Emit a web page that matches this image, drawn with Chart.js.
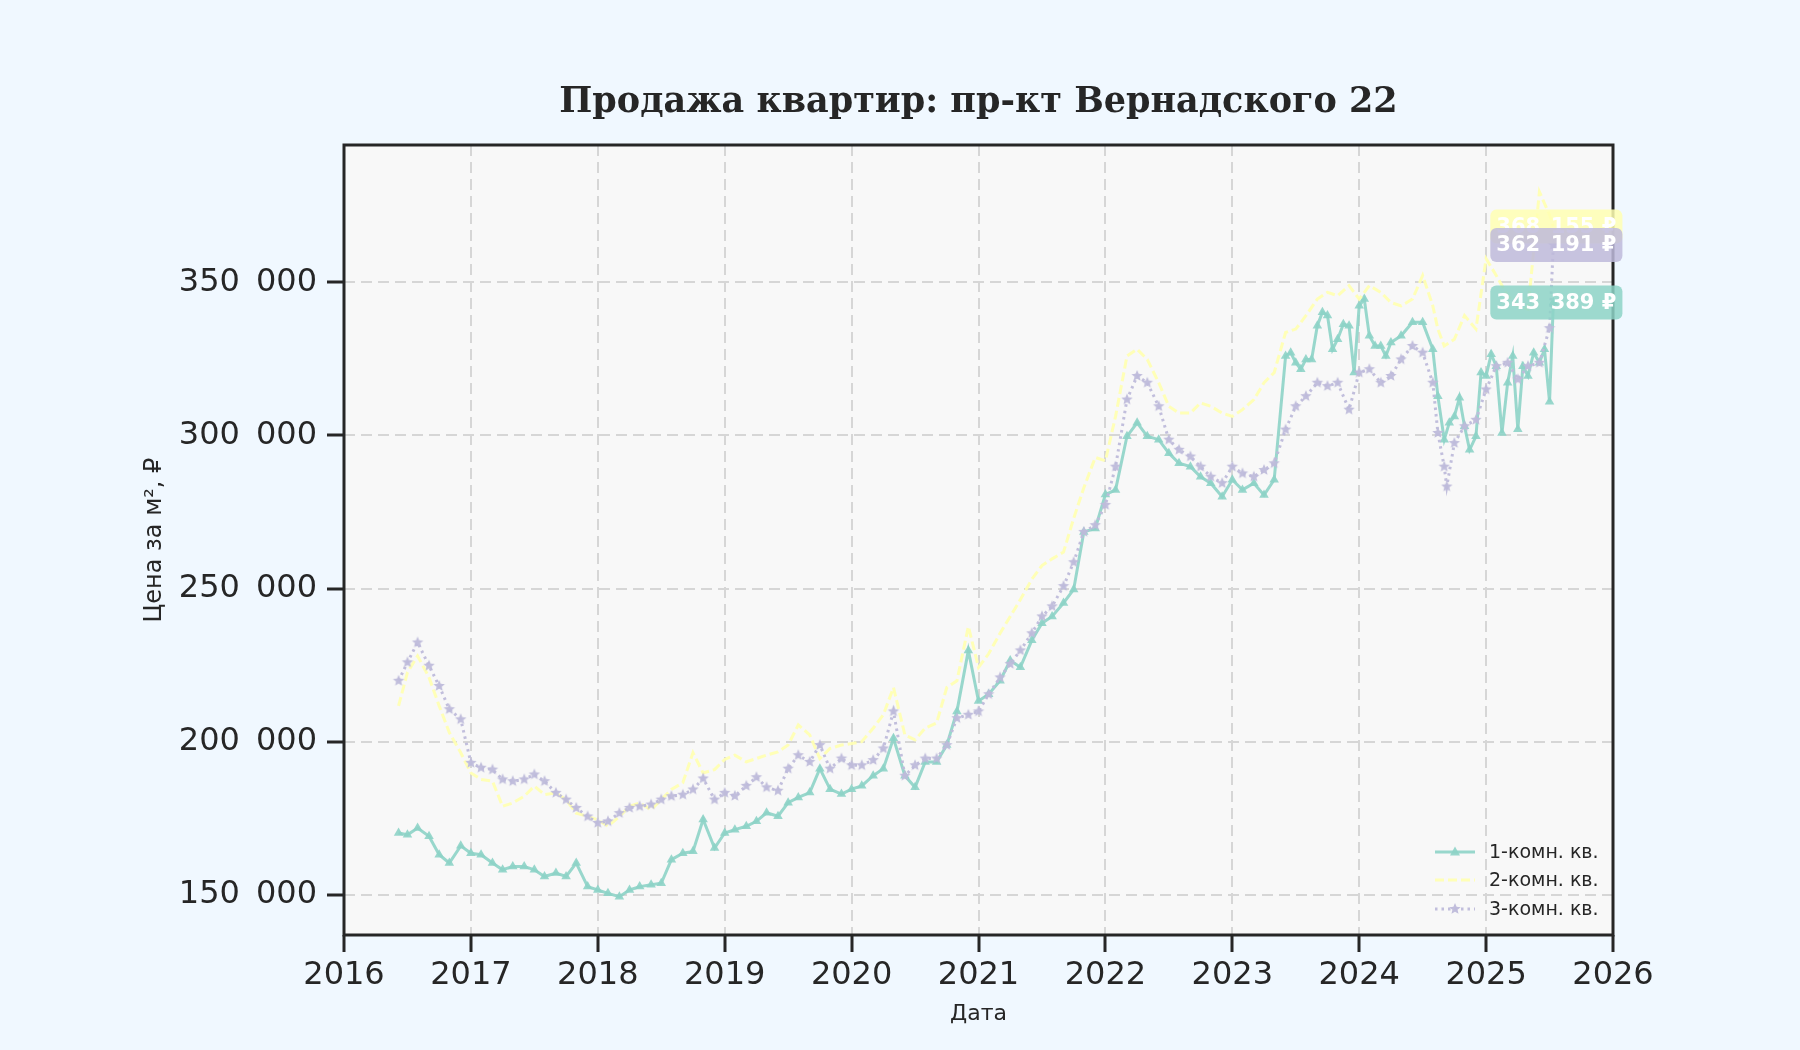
<!DOCTYPE html>
<html>
<head>
<meta charset="utf-8">
<script src="https://cdn.jsdelivr.net/npm/chart.js@4.4.1/dist/chart.umd.min.js"></script>
<style>
html,body{margin:0;padding:0;background:#f0f8ff;}
#wrap{width:1800px;height:1050px;}
</style>
</head>
<body>
<div id="wrap"><canvas id="c" width="1800" height="1050"></canvas></div>
<script>
// Dates as decimal years (common sampling for all three series)
const dates = [
  2016.43, 2016.5, 2016.58, 2016.67, 2016.75, 2016.83, 2016.92, 2017.0, 2017.08, 2017.17, 2017.25, 2017.33,
  2017.42, 2017.5, 2017.58, 2017.67, 2017.75, 2017.83, 2017.92, 2018.0, 2018.08, 2018.17, 2018.25, 2018.33,
  2018.42, 2018.5, 2018.58, 2018.67, 2018.75, 2018.83, 2018.92, 2019.0,
  2019.08, 2019.17, 2019.25, 2019.33, 2019.42, 2019.5, 2019.58, 2019.67, 2019.75, 2019.83, 2019.92, 2020.0,
  2020.08, 2020.17, 2020.25, 2020.33, 2020.42, 2020.5, 2020.58, 2020.67, 2020.75, 2020.83, 2020.92, 2021.0,
  2021.08, 2021.17, 2021.25, 2021.33, 2021.42, 2021.5, 2021.58, 2021.67, 2021.75, 2021.83, 2021.92, 2022.0,
  2022.08, 2022.17, 2022.25, 2022.33, 2022.42, 2022.5, 2022.58, 2022.67, 2022.75, 2022.83, 2022.92, 2023.0,
  2023.08, 2023.17, 2023.25, 2023.33, 2023.42, 2023.5, 2023.58, 2023.67, 2023.75, 2023.83, 2023.92, 2024.0,
  2024.08, 2024.17, 2024.25,
  2024.33, 2024.42, 2024.5, 2024.58, 2024.62, 2024.67, 2024.75, 2024.83, 2024.92, 2025.0, 2025.08, 2025.17,
  2025.25, 2025.33, 2025.42, 2025.5, 2025.53
];

const room1 = [
  170200, 169600, 171800, 169100, 163100, 160400, 166000, 163600, 163100, 160400, 158200, 159300,
  159300, 158200, 156000, 157100, 156000, 160400, 152700, 151600, 150500, 149400, 151600, 152700,
  153300, 153800, 161500, 163600, 164200, 174600, 165300, 170200,
  171300, 172400, 174000, 176800, 175700, 180100, 181800, 183400, 191200, 184500, 182900, 184500,
  185600, 188900, 191200, 201100, 188900, 185100, 193400, 193400, 198900, 209900, 229800, 213300,
  215500, 219900, 226500, 224300, 233100, 238700, 240900, 245300, 249700, 268500, 269600, 280700,
  282200, 299700, 304100, 299700, 298600, 294200, 290900, 289800, 286500, 284400, 280000, 285500,
  282200, 284400, 280500, 285500, 325900, 323700, 324800, 335800, 339100, 331400, 335800, 342300,
  332500, 329200, 330300,
  332500, 336900, 336900, 328100, 312800, 298600, 306200, 303000, 299700, 319400, 322600, 317200,
  302000, 319400, 323700, 311000, 343389
];

const room2 = [
  211700, 222600, 228000, 221000, 211700, 203000, 196400, 189800, 187700, 187100, 178900, 180000,
  182200, 185500, 182700, 183300, 181100, 176700, 175600, 174500, 172400, 175600, 178900, 180000,
  177800, 181100, 184400, 186600, 196400, 189800, 190900, 194200,
  195600, 193400, 194500, 195600, 196700, 198900, 205500, 202200, 194500, 197800, 198900, 199400,
  200000, 204400, 208800, 217700, 202200, 200600, 204400, 206100, 217700, 219900, 237600, 224300,
  228700, 235400, 240900, 246400, 253000, 257500, 259700, 261900, 272900, 282900, 292800, 291700,
  306200, 325900, 328100, 324800, 317200, 309500, 307300, 307300, 310600, 309500, 307300, 306200,
  308400, 311700, 317200, 320500, 333600, 334700, 339100, 344500, 346700, 345600, 348900, 344500,
  348900, 346700, 343400,
  342300, 344500, 352200, 342300, 334700, 329200, 331400, 339100, 334700, 357700, 352200, 345600,
  342300, 341200, 379500, 372000, 368155
];

const room3 = [
  219900, 225900, 232400, 224800, 218200, 210600, 207300, 193100, 191500, 190900, 187700, 187100,
  187700, 189300, 187100, 183300, 181100, 178400, 175600, 173500, 174000, 176700, 178400, 178900,
  179500, 181100, 182200, 182700, 184400, 188000, 181100, 183300,
  182300, 185600, 188400, 185100, 184000, 191200, 195600, 193400, 198900, 191200, 194500, 192300,
  192300, 194000, 197800, 209900, 188900, 192300, 194500, 194500, 198900, 207700, 208800, 209900,
  215500, 221000, 225400, 229800, 235400, 240900, 244200, 250800, 258600, 268500, 270700, 277300,
  289800, 311700, 319400, 317200, 309500, 298600, 295300, 293100, 289800, 286500, 284400, 289800,
  287600, 286500, 288700, 290900, 301900, 309500, 312800, 317200, 316100, 317200, 308400, 320500,
  321600, 317200, 319400,
  324800, 329200, 327000, 317200, 300800, 289800, 297500, 303000, 305100, 315000, 322600, 323700,
  318300, 322600, 323700, 335000, 362191
];

// Extra readings (in-between dates) where a series is especially jagged
const room1ExtraDates = [
  2023.46, 2023.54, 2023.625, 2023.71, 2023.79, 2023.875, 2023.96, 2024.04, 2024.125, 2024.21,
  2024.71, 2024.79, 2024.87, 2024.96, 2025.04, 2025.125, 2025.21, 2025.29, 2025.375, 2025.46
];
const room1Extra = [
  327000, 321600, 324800, 340200, 328100, 336300, 320500, 344500, 329200, 325900,
  304100, 312300, 295300, 320500, 326500, 300800, 325900, 322600, 327000, 328100
];
const room3ExtraDates = [2024.69];
const room3Extra = [283300];

const seriesNames = ['1-комн. кв.', '2-комн. кв.', '3-комн. кв.'];
const seriesColors = ['#8dd3c7', '#ffffb3', '#bebada'];
const xTickValues = [2016, 2017, 2018, 2019, 2020, 2021, 2022, 2023, 2024, 2025, 2026];
const yTickValues = [150000, 200000, 250000, 300000, 350000];
const titleText = 'Продажа квартир: пр-кт Вернадского 22';
const xTitle = 'Дата';
const yTitle = 'Цена за м², ₽';

function fmt(v) {
  return Math.round(v).toString().replace(/\B(?=(\d{3})+(?!\d))/g, '\u2002');
}
function rgba(hex, a) {
  const n = parseInt(hex.slice(1), 16);
  return `rgba(${(n >> 16) & 255},${(n >> 8) & 255},${n & 255},${a})`;
}
function makeStar(r, color) {
  const c = document.createElement('canvas');
  const s = Math.ceil(r * 2 + 2);
  c.width = c.height = s;
  const g = c.getContext('2d');
  g.fillStyle = color;
  g.beginPath();
  for (let i = 0; i < 10; i++) {
    const ang = -Math.PI / 2 + i * Math.PI / 5;
    const rr = i % 2 ? r * 0.45 : r;
    g.lineTo(s / 2 + rr * Math.cos(ang), s / 2 + rr * Math.sin(ang));
  }
  g.closePath();
  g.fill();
  return c;
}
const starImg = makeStar(6, rgba(seriesColors[2], 0.95));

function buildPoints(values, extraDates, extraValues) {
  const pts = values.map((v, i) => ({x: dates[i], y: v}));
  (extraDates || []).forEach((d, i) => pts.push({x: d, y: extraValues[i]}));
  pts.sort((a, b) => a.x - b.x);
  return pts;
}
const ink = '#262626';

const bgPlugin = {
  id: 'bg',
  beforeDraw(chart) {
    const {ctx, chartArea: a} = chart;
    ctx.save();
    ctx.fillStyle = '#f8f8f8';
    ctx.fillRect(a.left, a.top, a.right - a.left, a.bottom - a.top);
    ctx.restore();
  }
};
const framePlugin = {
  id: 'frame',
  afterDatasetsDraw(chart) {
    const {ctx, chartArea: a} = chart;
    ctx.save();
    ctx.strokeStyle = ink;
    ctx.lineWidth = 3;
    ctx.strokeRect(a.left, a.top, a.right - a.left, a.bottom - a.top);
    ctx.restore();
  }
};
const lastLabelPlugin = {
  id: 'lastLabels',
  afterDraw(chart) {
    const ctx = chart.ctx;
    ctx.save();
    ctx.font = 'bold 21px "DejaVu Sans"';
    ctx.textAlign = 'center';
    ctx.textBaseline = 'middle';
    chart.data.datasets.forEach((ds, i) => {
      const meta = chart.getDatasetMeta(i);
      const pt = meta.data[meta.data.length - 1];
      const val = ds.data[ds.data.length - 1].y;
      const txt = fmt(val) + '\u00a0₽';
      const w = ctx.measureText(txt).width + 12;
      const h = 34;
      const cx = pt.x + 3;
      const x = cx - w / 2, y = pt.y - h / 2;
      ctx.fillStyle = rgba(seriesColors[i], 0.85);
      ctx.beginPath();
      ctx.roundRect(x, y, w, h, 6);
      ctx.fill();
      ctx.fillStyle = '#ffffff';
      ctx.fillText(txt, cx, pt.y + 1);
    });
    ctx.restore();
  }
};
const legendPlugin = {
  id: 'customLegend',
  afterDraw(chart) {
    const ctx = chart.ctx;
    const a = chart.chartArea;
    const x0 = a.right - 178, x1 = x0 + 40, tx = x0 + 54;
    const rows = [a.bottom - 83, a.bottom - 55, a.bottom - 26];
    ctx.save();
    ctx.font = '19px "DejaVu Sans"';
    ctx.textBaseline = 'middle';
    ctx.textAlign = 'left';
    chart.data.datasets.forEach((ds, i) => {
      const y = rows[i];
      ctx.strokeStyle = ds.borderColor;
      ctx.lineWidth = ds.borderWidth;
      ctx.setLineDash(ds.borderDash || []);
      ctx.beginPath();
      ctx.moveTo(x0, y);
      ctx.lineTo(x1, y);
      ctx.stroke();
      ctx.setLineDash([]);
      const cx = (x0 + x1) / 2;
      if (i === 0) {
        ctx.fillStyle = ds.pointBackgroundColor;
        ctx.beginPath();
        ctx.moveTo(cx, y - 5.5);
        ctx.lineTo(cx + 5, y + 3.5);
        ctx.lineTo(cx - 5, y + 3.5);
        ctx.closePath();
        ctx.fill();
      } else if (i === 2) {
        ctx.drawImage(starImg, cx - starImg.width / 2, y - starImg.height / 2);
      }
      ctx.fillStyle = ink;
      ctx.fillText(seriesNames[i], tx, y + 1);
    });
    ctx.restore();
  }
};

const gridCommon = {
  color: '#d6d6d6',
  lineWidth: 2,
  tickLength: 17,
  tickWidth: 3,
  tickColor: ink
};

new Chart(document.getElementById('c'), {
  type: 'line',
  data: {
    datasets: [
      {
        label: seriesNames[0],
        data: buildPoints(room1, room1ExtraDates, room1Extra),
        borderColor: rgba(seriesColors[0], 0.9),
        backgroundColor: rgba(seriesColors[0], 0.9),
        borderWidth: 3,
        pointStyle: 'triangle',
        pointRadius: 5.5,
        pointBackgroundColor: rgba(seriesColors[0], 0.9),
        pointBorderColor: rgba(seriesColors[0], 0.9),
        pointBorderWidth: 0,
        tension: 0,
        order: 3
      },
      {
        label: seriesNames[1],
        data: buildPoints(room2),
        borderColor: rgba(seriesColors[1], 0.95),
        backgroundColor: rgba(seriesColors[1], 0.95),
        borderWidth: 3,
        borderDash: [9, 4],
        pointRadius: 0,
        tension: 0,
        order: 2
      },
      {
        label: seriesNames[2],
        data: buildPoints(room3, room3ExtraDates, room3Extra),
        borderColor: rgba(seriesColors[2], 0.95),
        backgroundColor: rgba(seriesColors[2], 0.95),
        borderWidth: 3,
        borderDash: [2.5, 4],
        pointStyle: starImg,
        pointRadius: 5,
        tension: 0,
        order: 1
      }
    ]
  },
  options: {
    responsive: false,
    animation: false,
    devicePixelRatio: 1,
    layout: {padding: {left: 0, right: 187, top: 0, bottom: 0}},
    plugins: {
      legend: {display: false},
      tooltip: {enabled: false},
      title: {
        display: true,
        text: titleText,
        fullSize: false,
        color: ink,
        font: {family: 'DejaVu Serif', size: 35, weight: 'bold'},
        padding: {top: 82, bottom: 21}
      }
    },
    scales: {
      x: {
        type: 'linear',
        min: xTickValues[0],
        max: xTickValues[xTickValues.length - 1],
        afterBuildTicks: s => { s.ticks = xTickValues.map(v => ({value: v})); },
        afterFit: s => { s.height = 115; },
        ticks: {
          callback: v => String(v),
          font: {family: 'DejaVu Sans', size: 32},
          color: ink,
          padding: 4,
          maxRotation: 0,
          autoSkip: false
        },
        grid: gridCommon,
        border: {display: false, dash: [11, 6]},
        title: {
          display: true,
          text: xTitle,
          color: ink,
          font: {family: 'DejaVu Sans', size: 22},
          padding: {top: 0, bottom: 23}
        }
      },
      y: {
        type: 'linear',
        min: 136900,
        max: 394800,
        afterBuildTicks: s => { s.ticks = yTickValues.map(v => ({value: v})); },
        afterFit: s => { s.width = 344; },
        ticks: {
          callback: v => fmt(v),
          font: {family: 'DejaVu Sans', size: 32},
          color: ink,
          padding: 10,
          autoSkip: false
        },
        grid: gridCommon,
        border: {display: false, dash: [11, 6]},
        title: {
          display: true,
          text: yTitle,
          color: ink,
          font: {family: 'DejaVu Sans', size: 24},
          padding: {top: 140, bottom: 0}
        }
      }
    }
  },
  plugins: [bgPlugin, framePlugin, lastLabelPlugin, legendPlugin]
});
</script>
</body>
</html>
